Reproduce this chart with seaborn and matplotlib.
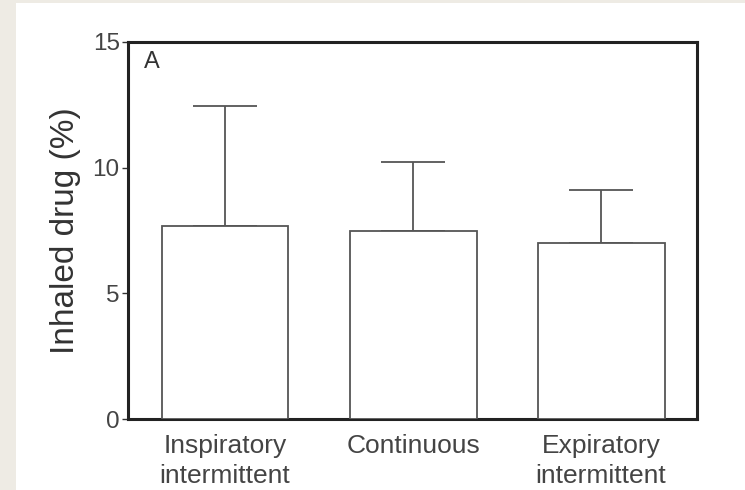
import matplotlib
matplotlib.use("Agg")
import matplotlib.pyplot as plt
import seaborn as sns
import pandas as pd
from matplotlib.patches import Rectangle

categories = ["Inspiratory\nintermittent", "Continuous", "Expiratory\nintermittent"]
means = [7.68, 7.48, 7.00]
sd_upper = [4.77, 2.75, 2.11]
yticks = [0, 5, 10, 15]

sns.set_theme(style="white")
plt.rcParams["font.family"] = ["Liberation Sans", "DejaVu Sans"]

fig = plt.figure(figsize=(7.45, 4.9), dpi=100)
fig.patch.set_facecolor("#eeebe4")
fig.patches.append(Rectangle((16 / 745, 0), 1 - 16 / 745, 1 - 3 / 490,
                             transform=fig.transFigure, facecolor="white",
                             edgecolor="none", zorder=-10))
ax = fig.add_axes([128 / 745, 1 - 419 / 490, 569 / 745, 377 / 490])
ax.set_facecolor("white")

df = pd.DataFrame({"cat": categories, "val": means})
sns.barplot(data=df, x="cat", y="val", ax=ax, width=0.675, color="white",
            edgecolor="#555555", linewidth=1.3, errorbar=None, zorder=3)
ax.errorbar(range(len(categories)), means, yerr=[[0] * 3, sd_upper], fmt="none",
            ecolor="#555555", elinewidth=1.3, capsize=23, capthick=1.3, zorder=2)

ax.set_xlim(-0.516, 2.51)
ax.set_ylim(0, 15)
ax.set_yticks(yticks)
ax.set_ylabel("Inhaled drug (%)", fontsize=24, color="#333333", labelpad=8)
ax.set_xlabel("")
ax.tick_params(axis="y", which="both", left=True, length=4, width=1,
               color="#333333", labelsize=17.5, labelcolor="#444444", pad=2)
ax.tick_params(axis="x", bottom=False, labelsize=19, labelcolor="#444444", pad=5)
for lbl in ax.get_xticklabels():
    lbl.set_linespacing(1.3)
for s in ax.spines.values():
    s.set_visible(True)
    s.set_color("#222222")
    s.set_linewidth(2.2)
ax.text(0.028, 0.975, "A", transform=ax.transAxes, fontsize=17,
        color="#333333", ha="left", va="top")

fig.savefig("out.png", dpi=100, facecolor=fig.get_facecolor())
